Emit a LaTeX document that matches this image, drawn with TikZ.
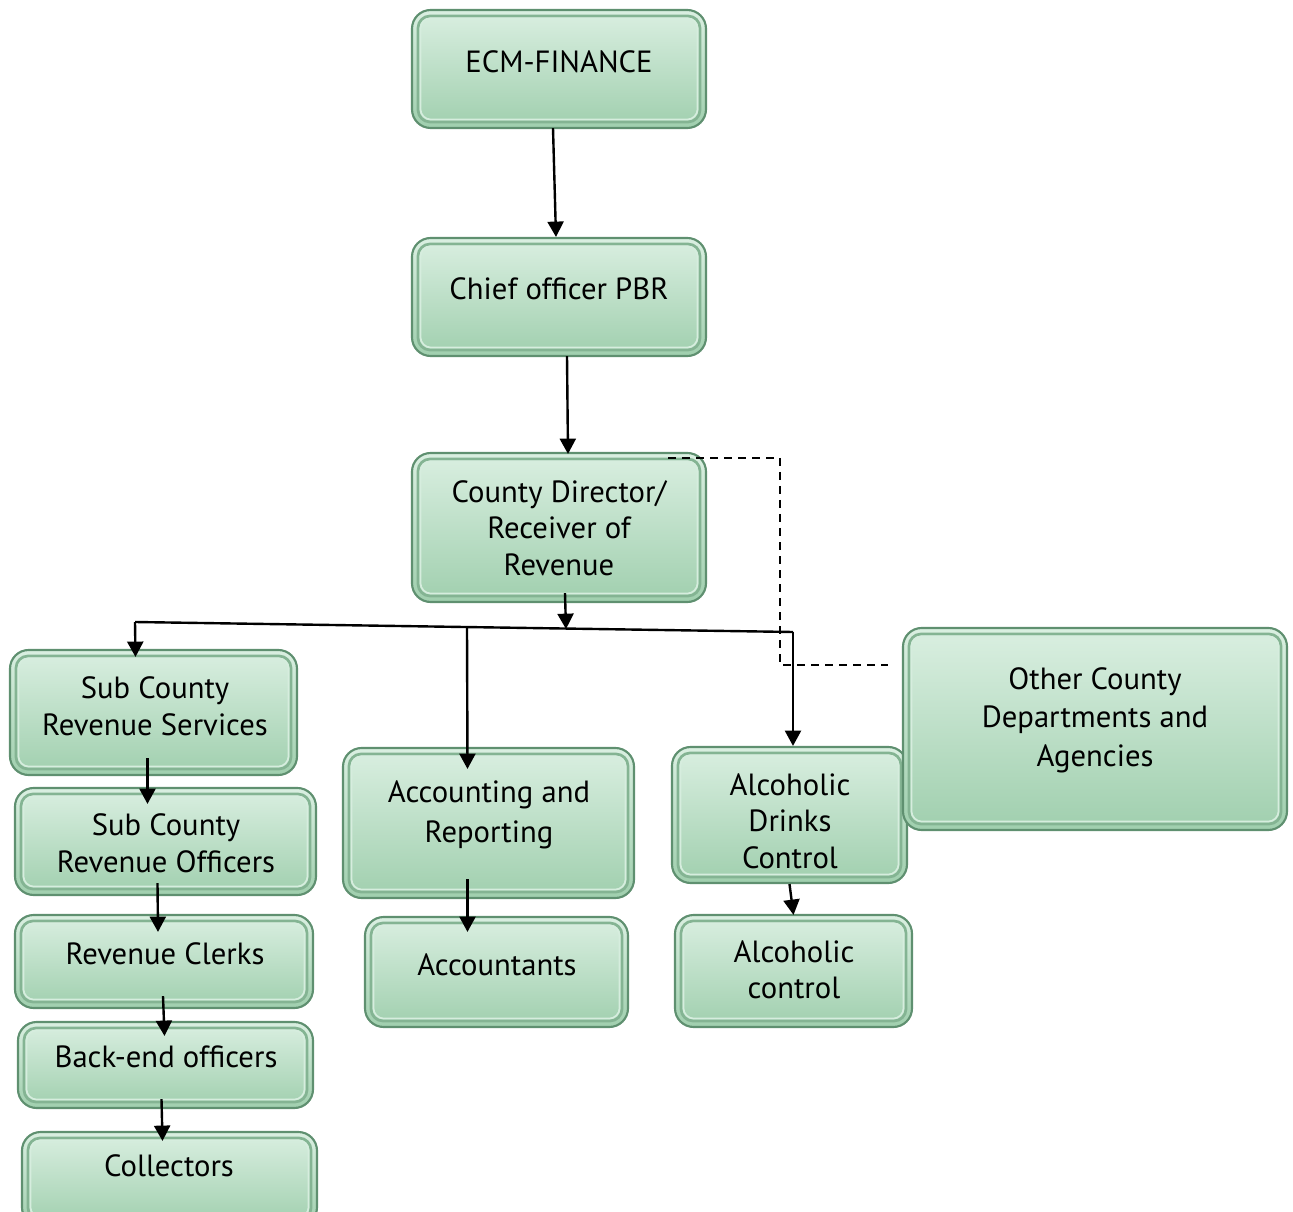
\documentclass[tikz,border=0pt]{standalone}
\usepackage{fontspec}
\setmainfont{PT Sans}
\usetikzlibrary{arrows.meta,calc}
\definecolor{boxedge}{HTML}{5F9070}
\definecolor{boxtop}{HTML}{DAEFE1}
\definecolor{boxbot}{HTML}{A0CFAE}
\definecolor{boxinner}{HTML}{D6EDDE}
\definecolor{boxshade}{HTML}{84B493}
\begin{document}
\begin{tikzpicture}[x=0.75pt,y=-0.75pt,
  box/.style={rectangle, rounded corners=14pt, draw=boxedge, line width=1.6pt,
    top color=boxtop, bottom color=boxbot, inner sep=0pt,
    path picture={
      \draw[boxshade, line width=2pt, rounded corners=9pt]
        ([shift={(4.5pt,-4.5pt)}]path picture bounding box.north west) rectangle
        ([shift={(-4.5pt,4.5pt)}]path picture bounding box.south east);
      \draw[boxinner, line width=1.3pt, rounded corners=8pt]
        ([shift={(6.3pt,-6.3pt)}]path picture bounding box.north west) rectangle
        ([shift={(-6.3pt,6.3pt)}]path picture bounding box.south east);
    }},
  txt/.style={align=center, inner sep=0pt, font=\fontsize{23}{27.4}\selectfont},
  arr/.style={line width=1.8pt, -{Triangle[length=11.5pt,width=12pt]}},
  bus/.style={line width=1.8pt},
  dash line/.style={line width=1.2pt, dash pattern=on 6pt off 4.5pt}
]
\useasboundingbox (0,0) rectangle (1293,1212);
\newcommand{\bx}[5]{\node[box, minimum width={(#4-#2)*0.75pt}, minimum height={(#5-#3)*0.75pt}] (#1) at ({(#2+#4)/2},{(#3+#5)/2}) {};}
% boxes
\bx{ecm}{412}{10}{706}{128}
\bx{chief}{412}{238}{706}{356}
\bx{dir}{412}{453}{706}{602}
\bx{scrs}{10}{650}{297}{775}
\bx{scro}{15}{788}{316}{895}
\bx{clerks}{15}{915}{313}{1008}
\bx{back}{18}{1022}{313}{1108}
\bx{coll}{22}{1132}{317}{1226}
\bx{acc}{343}{748}{634}{898}
\bx{accts}{365}{917}{628}{1027}
\bx{adc}{672}{747}{907}{883}
\bx{ac}{675}{915}{912}{1027}
\bx{other}{903}{628}{1287}{830}
% texts
\node[txt] (tecm) at (559,62) {ECM-FINANCE};
\node[txt] (tchief) at (559,289) {Chief officer PBR};
\node[txt] (tdir) at (559,528) {County Director/\\Receiver of\\Revenue};
\node[txt] (tscrs) at (155,706) {Sub County\\Revenue Services};
\node[txt] (tscro) at (166,843) {Sub County\\Revenue Officers};
\node[txt] (tclerks) at (165,954) {Revenue Clerks};
\node[txt] (tback) at (166,1057) {Back-end officers};
\node[txt] (tcoll) at (169,1166) {Collectors};
\node[txt, font=\fontsize{23}{30}\selectfont] (tacc) at (489,815) {Accounting and\\Reporting};
\node[txt] (taccts) at (497,965) {Accountants};
\node[txt] (tadc) at (790,821) {Alcoholic\\Drinks\\Control};
\node[txt] (tac) at (794,970) {Alcoholic\\control};
\node[txt, font=\fontsize{23}{29}\selectfont] (tother) at (1095,720) {Other County\\Departments and\\Agencies};
% bus coordinates
\coordinate (bl) at (135,622);
\coordinate (br) at (793,632);
\coordinate (bm) at (566,629);
\coordinate (ba) at (467,627);
% connectors
\draw[arr] ($(ecm.south)+(-6,-1)$) -- ($(chief.north)+(-3,0)$);
\draw[arr] ($(chief.south)+(8,-1)$) -- ($(dir.north)+(9,2)$);
\draw[arr] ($(dir.south)+(6,-10)$) -- (bm);
\draw[bus] (bl) -- (br);
\draw[arr] (bl) -- ($(scrs.north)+(-18,8)$);
\draw[arr] (ba) -- ($(acc.north)+(-21,22)$);
\draw[arr] (br) -- (adc.north -| br);
\draw[arr] ($(scrs.south)+(-6,-18)$) -- ($(scro.north)+(-18,17)$);
\draw[arr] ($(scro.south)+(-8,-13)$) -- ($(clerks.north)+(-6,18)$);
\draw[arr] ($(clerks.south)+(-1,-13)$) -- ($(back.north)+(-1,15)$);
\draw[arr] ($(back.south)+(-4,-10)$) -- ($(coll.north)+(-7,10)$);
\draw[arr] ($(acc.south)+(-21,-20)$) -- ($(accts.north)+(-29,16)$);
\draw[arr] ($(adc.south)+(0,0)$) -- ($(ac.north)+(0,1)$);
% dashed link
\coordinate (d1) at (668,458);
\coordinate (d2) at (780,458);
\coordinate (d3) at (780,665);
\coordinate (d4) at (888,665);
\draw[dash line] (d1) -- (d2) -- (d3) -- (d4);
\end{tikzpicture}
\end{document}
